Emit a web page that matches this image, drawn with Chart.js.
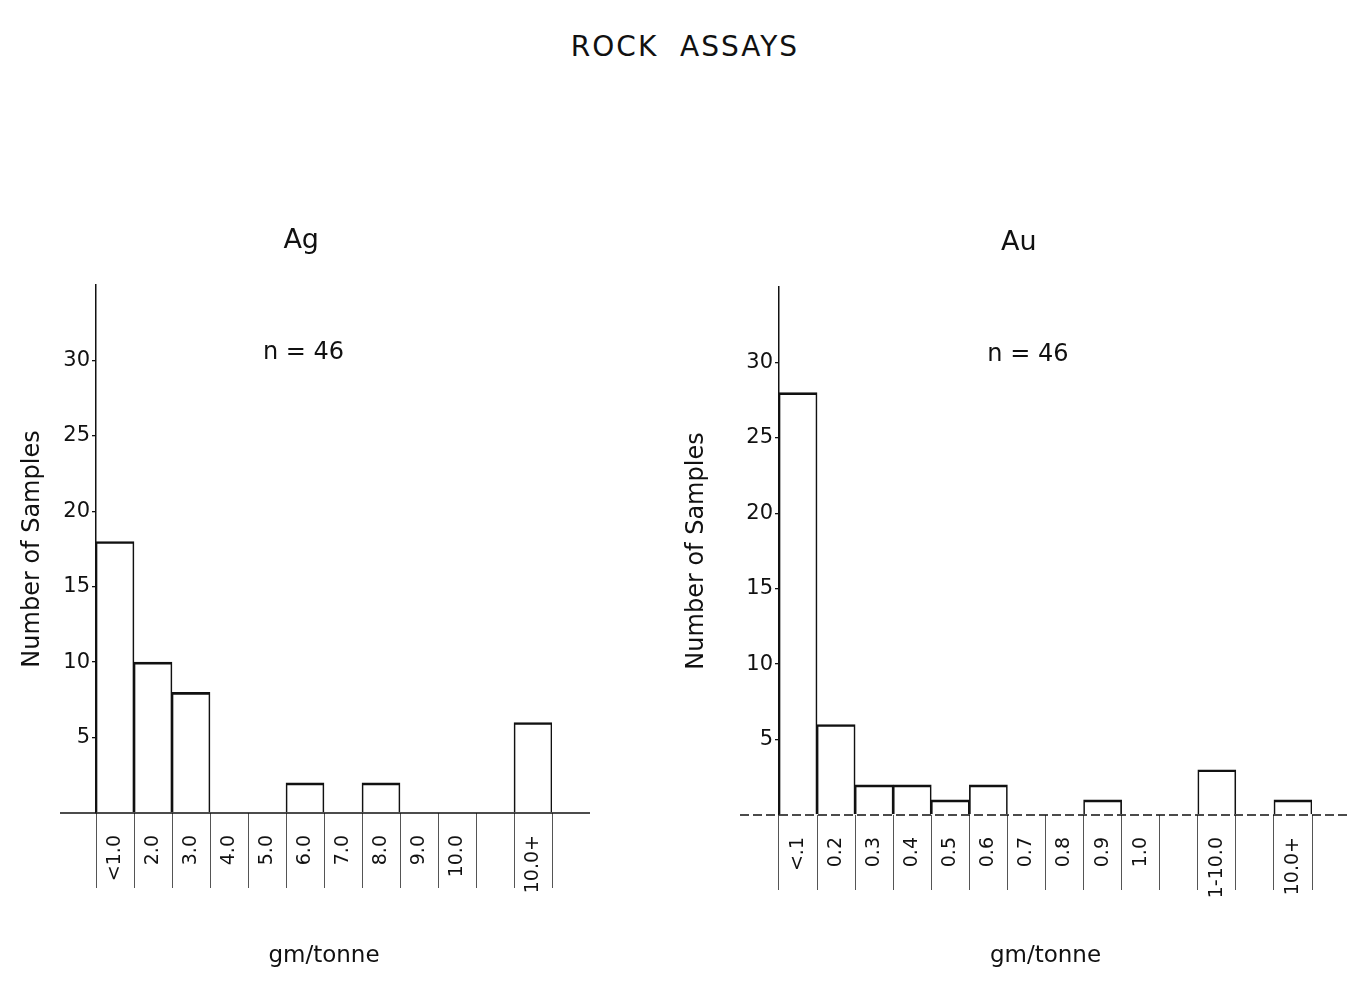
<!DOCTYPE html>
<html>
<head>
<meta charset="utf-8">
<title>Rock Assays</title>
<script src="https://cdn.jsdelivr.net/npm/chart.js@4.4.1/dist/chart.umd.min.js"></script>
<style>
  html, body { margin: 0; padding: 0; background: #fff; overflow: hidden; }
  body { width: 1350px; height: 992px; position: relative; }
  #heading {
    position: absolute; top: 30px; left: 20px; width: 1330px;
    text-align: center; font: 28px "DejaVu Sans", sans-serif; line-height: 34px;
    color: #111; letter-spacing: 2px;
  }
  .panel { position: absolute; top: 0; height: 992px; }
</style>
</head>
<body>
<div id="heading">ROCK&nbsp;&nbsp;ASSAYS</div>
<div class="panel" style="left:0;width:640px"><canvas id="agChart"></canvas></div>
<div class="panel" style="left:680px;width:670px"><canvas id="auChart"></canvas></div>

<script>
// Silver bins (gm/tonne) and sample counts, blank bin is the gap before 10.0+
var agBins = ["<1.0", "2.0", "3.0", "4.0", "5.0", "6.0", "7.0", "8.0", "9.0", "10.0", "", "10.0+"];
var agCounts = [18, 10, 8, 0, 0, 2, 0, 2, 0, 0, null, 6];

// Gold bins (gm/tonne) and sample counts
var auBins = ["<.1", "0.2", "0.3", "0.4", "0.5", "0.6", "0.7", "0.8", "0.9", "1.0", "", "1-10.0", "", "10.0+"];
var auCounts = [28, 6, 2, 2, 1, 2, 0, 0, 1, 0, null, 3, null, 1];

// Labelled count ticks
var countTicks = [5, 10, 15, 20, 25, 30];
var countMax = 35;

Chart.defaults.font.family = '"DejaVu Sans", sans-serif';
Chart.defaults.color = "#111";

// Panel heading, sample size note and the long zero line
var panelText = {
    id: "panelText",
    afterDraw: function(chart, args, opts) {
        var ctx = chart.ctx, a = chart.chartArea, y = chart.scales.y;
        var y0 = y.getPixelForValue(0);
        ctx.save();
        ctx.strokeStyle = "#111";
        ctx.lineWidth = 1.6;
        ctx.setLineDash(opts.dash || []);
        ctx.beginPath();
        ctx.moveTo(a.left - opts.extendLeft, y0);
        ctx.lineTo(a.right + opts.extendRight, y0);
        ctx.stroke();
        ctx.setLineDash([]);
        ctx.fillStyle = "#111";
        ctx.textAlign = "center";
        ctx.textBaseline = "middle";
        ctx.font = '27px "DejaVu Sans", sans-serif';
        ctx.fillText(opts.title, a.left + a.width * opts.titlePos, a.top - 44);
        ctx.font = '24px "DejaVu Sans", sans-serif';
        ctx.fillText(opts.note, a.left + a.width * opts.notePos, y.getPixelForValue(30.5));
        ctx.restore();
    }
};

function histogram(id, bins, counts, cfg) {
    return new Chart(document.getElementById(id), {
        type: "bar",
        data: {
            labels: bins,
            datasets: [{
                data: counts,
                backgroundColor: "rgba(0,0,0,0)",
                borderColor: "#111",
                borderWidth: { top: 2, left: 1, right: 1, bottom: 0 },
                borderSkipped: "start",
                barPercentage: 1,
                categoryPercentage: 1
            }]
        },
        options: {
            responsive: true,
            maintainAspectRatio: false,
            animation: false,
            events: [],
            layout: { padding: { top: cfg.top, right: cfg.right, left: 0, bottom: 0 } },
            plugins: {
                legend: { display: false },
                tooltip: { enabled: false },
                panelText: cfg.panel
            },
            scales: {
                x: {
                    grid: { offset: true, drawOnChartArea: false, tickLength: 75, color: "#555", lineWidth: 1 },
                    border: { display: false },
                    ticks: { autoSkip: false, minRotation: 90, maxRotation: 90, padding: -53, font: { size: 19 } },
                    title: { display: true, text: "gm/tonne", font: { size: 23 }, padding: { top: 0, bottom: 22 } },
                    afterFit: function(s) { s.height = cfg.xHeight; s.paddingLeft = 0; s.paddingRight = 0; }
                },
                y: {
                    min: 0,
                    max: countMax,
                    grid: {
                        drawOnChartArea: false,
                        tickLength: 4,
                        lineWidth: 1.3,
                        tickColor: function(c) { return countTicks.indexOf(c.tick.value) >= 0 ? "#111" : "rgba(0,0,0,0)"; }
                    },
                    border: { color: "#111", width: 1.5, dash: cfg.axisDash },
                    ticks: {
                        stepSize: 5,
                        padding: 2,
                        font: { size: 21 },
                        callback: function(v) { return countTicks.indexOf(v) >= 0 ? v : ""; }
                    },
                    title: { display: true, text: "Number of Samples", font: { size: 24 }, padding: { top: cfg.yTitlePad, bottom: 0 } },
                    afterFit: function(s) { s.width = cfg.yWidth; }
                }
            }
        },
        plugins: [panelText]
    });
}

var agChart = histogram("agChart", agBins, agCounts, {
    top: 285, right: 88, xHeight: 179, yWidth: 96, yTitlePad: 18.6, axisDash: [],
    panel: { title: "Ag", note: "n = 46", titlePos: 0.45, notePos: 0.455, extendLeft: 36, extendRight: 38, dash: [] }
});

var auChart = histogram("auChart", auBins, auCounts, {
    top: 287, right: 38, xHeight: 177, yWidth: 99, yTitlePad: 2.6, axisDash: [7, 4],
    panel: { title: "Au", note: "n = 46", titlePos: 0.45, notePos: 0.467, extendLeft: 39, extendRight: 40, dash: [9, 4] }
});
</script>
</body>
</html>
